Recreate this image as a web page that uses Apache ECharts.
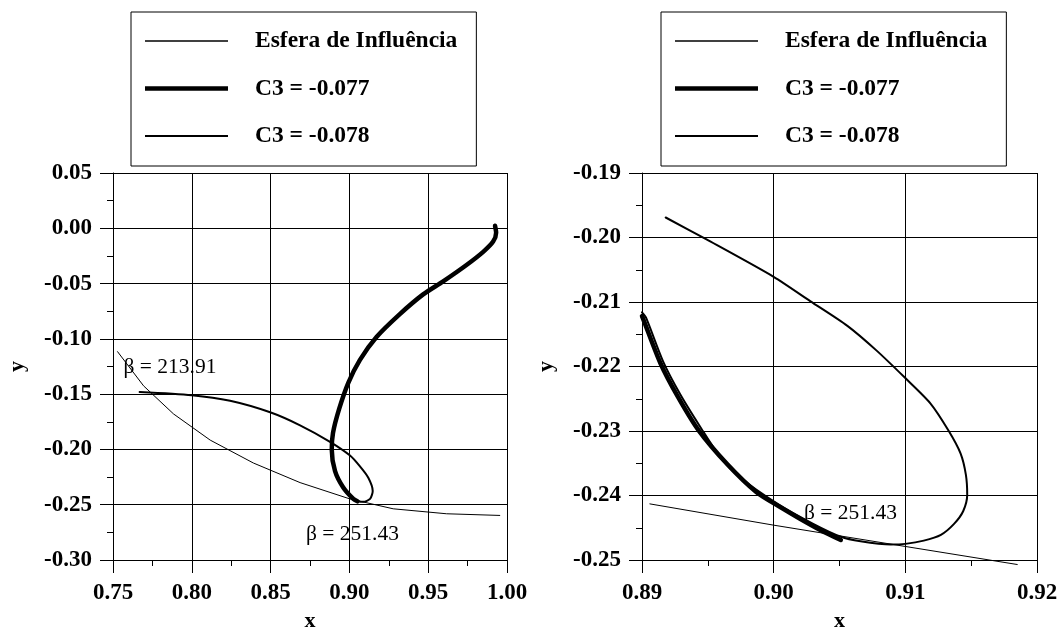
<!DOCTYPE html>
<html><head><meta charset="utf-8">
<script src="https://cdn.jsdelivr.net/npm/echarts@6/dist/echarts.min.js"></script>
<style>html,body{margin:0;padding:0;background:#fff}#c{width:1061px;height:637px}</style>
</head><body><div id="c"></div><script>
// ---- names ----
const seriesNames = ['Esfera de Influência', 'C3 = -0.077', 'C3 = -0.078'];

// ---- left panel data ([x, y]) ----
const leftEsfera = [[0.7529,-0.1116],[0.7694,-0.1425],[0.7884,-0.1679],[0.8117,-0.1916],[0.8391,-0.2123],[0.8687,-0.2300],[0.9004,-0.2448],[0.9278,-0.2537],[0.9617,-0.2582],[0.9954,-0.2597]];
const leftC3_077 = [[0.9924,0.0023],[0.9931,-0.0040],[0.9912,-0.0120],[0.9849,-0.0213],[0.9743,-0.0332],[0.9595,-0.0480],[0.9468,-0.0598],[0.9320,-0.0776],[0.9172,-0.0983],[0.9067,-0.1190],[0.8993,-0.1398],[0.8935,-0.1634],[0.8896,-0.1850],[0.8888,-0.2000],[0.8909,-0.2197],[0.8961,-0.2345],[0.9025,-0.2448],[0.9051,-0.2469]];
const leftC3_078 = [[0.7669,-0.1480],[0.8000,-0.1509],[0.8243,-0.1560],[0.8497,-0.1664],[0.8687,-0.1782],[0.8877,-0.1931],[0.9004,-0.2055],[0.9067,-0.2153],[0.9120,-0.2256],[0.9148,-0.2375],[0.9131,-0.2448],[0.9088,-0.2474],[0.9051,-0.2466],[0.9025,-0.2446],[0.8963,-0.2343],[0.8912,-0.2195],[0.8891,-0.2000],[0.8899,-0.1850],[0.8938,-0.1634],[0.8996,-0.1398],[0.9070,-0.1190],[0.9175,-0.0983],[0.9323,-0.0776],[0.9471,-0.0598],[0.9598,-0.0480],[0.9746,-0.0332],[0.9852,-0.0213],[0.9915,-0.0120],[0.9933,-0.0040],[0.9926,0.0023]];
const leftNotes = [{x:0.7567, y:-0.1255, text:'β = 213.91'},{x:0.8725, y:-0.2770, text:'β = 251.43'}];

// ---- right panel data ([x, y]) ----
const rightEsfera = [[0.8906,-0.2413],[0.9000,-0.2446],[0.9100,-0.2479],[0.9185,-0.2507]];
const rightC3_077 = [[0.8900,-0.2122],[0.8901,-0.2127],[0.8914,-0.2195],[0.8927,-0.2246],[0.8943,-0.2299],[0.8965,-0.2352],[0.8987,-0.2395],[0.9005,-0.2418],[0.9020,-0.2436],[0.9035,-0.2453],[0.9051,-0.2469]];
const rightC3_078 = [[0.8918,-0.1969],[0.8949,-0.2003],[0.9000,-0.2061],[0.9028,-0.2099],[0.9056,-0.2137],[0.9078,-0.2175],[0.9099,-0.2216],[0.9119,-0.2257],[0.9133,-0.2300],[0.9142,-0.2335],[0.9146,-0.2368],[0.9147,-0.2399],[0.9144,-0.2424],[0.9137,-0.2444],[0.9127,-0.2461],[0.9114,-0.2470],[0.9100,-0.2475],[0.9089,-0.2476],[0.9066,-0.2471],[0.9051,-0.2464],[0.9030,-0.2444],[0.9003,-0.2413],[0.8975,-0.2373],[0.8960,-0.2342],[0.8945,-0.2296],[0.8929,-0.2243],[0.8916,-0.2192],[0.8903,-0.2124],[0.8900,-0.2116]];
const rightNotes = [{x:0.9023, y:-0.2427, text:'β = 251.43'}];

// ---- axis ranges: [min, max, interval] ----
const leftXAxisRange = [0.75, 1.00, 0.05];
const leftYAxisRange = [-0.30, 0.05, 0.05];
const rightXAxisRange = [0.89, 0.92, 0.01];
const rightYAxisRange = [-0.25, -0.19, 0.01];

const FONT = "'Liberation Serif', 'Times New Roman', serif";
const BLACK = '#000';

function makeAxis(isX, idx, r) {
  return {
    type: 'value', gridIndex: idx, min: r[0], max: r[1], interval: r[2],
    name: isX ? 'x' : 'y', nameLocation: 'middle', nameGap: isX ? 50 : 85, nameRotate: isX ? 0 : 90,
    nameTextStyle: { fontFamily: FONT, fontWeight: 'bold', fontSize: 22, color: BLACK },
    axisLine: { show: true, onZero: false, lineStyle: { color: BLACK, width: 1 } },
    axisTick: { show: true, inside: false, length: 13, lineStyle: { color: BLACK, width: 1 } },
    minorTick: { show: true, splitNumber: 2, length: 6, lineStyle: { color: BLACK, width: 1 } },
    splitLine: { show: true, showMinLine: true, showMaxLine: true, lineStyle: { color: BLACK, width: 1, type: 'solid' } },
    minorSplitLine: { show: false },
    axisLabel: { show: true, margin: isX ? 22 : 21, showMinLabel: true, showMaxLabel: true, hideOverlap: false,
      formatter: v => Number(v).toFixed(2), fontFamily: FONT, fontWeight: 'bold', fontSize: 23, color: BLACK }
  };
}

const widths = [1, 4.5, 2];
function lineSeries(name, idx, data, w, clip) {
  return {
    type: 'line', name: name, xAxisIndex: idx, yAxisIndex: idx, data: data,
    symbol: 'none', showSymbol: false, smooth: w === 1 ? false : 0.25, clip: clip,
    lineStyle: { color: BLACK, width: w, cap: 'round', join: 'round' },
    itemStyle: { color: BLACK }, silent: true, z: w === 4.5 ? 4 : 3
  };
}
function noteSeries(idx, notes) {
  return {
    type: 'scatter', name: 'notes' + idx, xAxisIndex: idx, yAxisIndex: idx, silent: true,
    symbol: 'circle', symbolSize: 0, itemStyle: { color: BLACK }, clip: false, z: 5,
    data: notes.map(n => ({ value: [n.x, n.y], label: { formatter: n.text } })),
    label: { show: true, position: 'right', distance: 0, fontFamily: FONT, fontSize: 21.5, color: BLACK, opacity: 1 }
  };
}
function legendIcon(w) {
  return 'path://M0,0L83,0L83,' + w + 'L0,' + w + 'Z';
}
function legend(left) {
  return {
    show: true, orient: 'vertical', left: left, top: 12,
    data: seriesNames.map((n, i) => ({ name: n, icon: legendIcon(widths[i] === 1 ? 1.3 : widths[i]), itemStyle: { color: BLACK } })),
    itemWidth: 83, itemHeight: 24, itemGap: 23.5, symbolKeepAspect: true,
    padding: [17, 19, 18, 14],
    borderColor: BLACK, borderWidth: 1, borderRadius: 0, backgroundColor: '#fff',
    selectedMode: false,
    textStyle: { fontFamily: FONT, fontWeight: 'bold', fontSize: 23.5, color: BLACK, lineHeight: 24, padding: [0, 0, 0, 22] }
  };
}

const chart = echarts.init(document.getElementById('c'), null, { renderer: 'canvas' });
chart.setOption({
  animation: false,
  backgroundColor: '#fff',
  legend: [legend(131), legend(661)],
  grid: [
    { left: 113, top: 173, width: 394, height: 394, containLabel: false, show: false },
    { left: 642, top: 173, width: 395, height: 394, containLabel: false, show: false }
  ],
  xAxis: [makeAxis(true, 0, leftXAxisRange), makeAxis(true, 1, rightXAxisRange)],
  yAxis: [makeAxis(false, 0, leftYAxisRange), makeAxis(false, 1, rightYAxisRange)],
  series: [
    lineSeries(seriesNames[0], 0, leftEsfera, widths[0], true),
    lineSeries(seriesNames[1], 0, leftC3_077, widths[1], true),
    lineSeries(seriesNames[2], 0, leftC3_078, widths[2], true),
    lineSeries(seriesNames[0], 1, rightEsfera, widths[0], false),
    lineSeries(seriesNames[1], 1, rightC3_077, widths[1], true),
    lineSeries(seriesNames[2], 1, rightC3_078, widths[2], true),
    noteSeries(0, leftNotes),
    noteSeries(1, rightNotes)
  ]
});
</script></body></html>
